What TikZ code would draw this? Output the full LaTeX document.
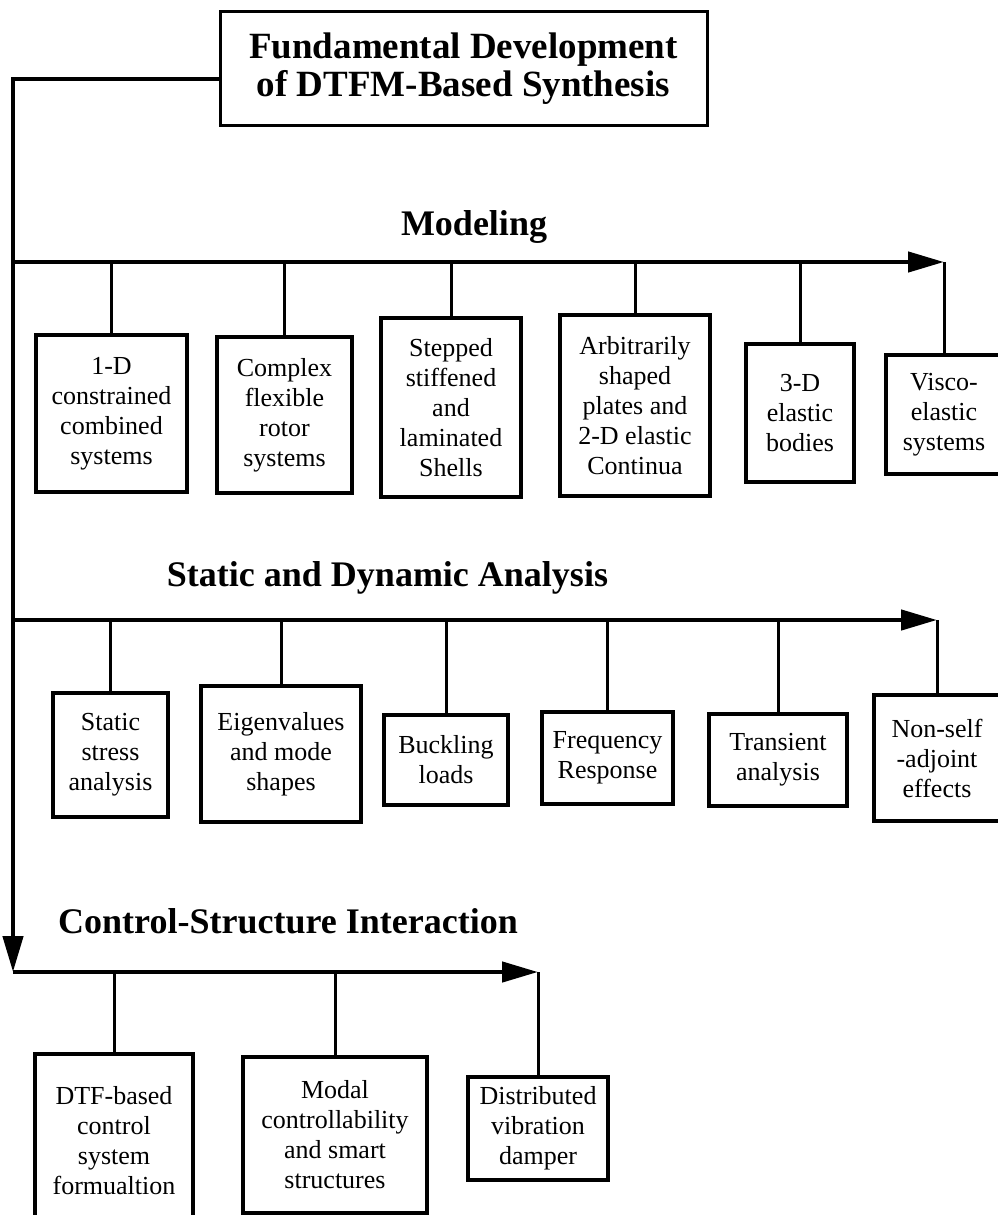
\documentclass[tikz,border=0pt]{standalone}
\usepackage{fontspec}
\setmainfont{Liberation Serif}
\usetikzlibrary{arrows.meta}

\tikzset{
  caja/.style={draw, line width=3.5pt, align=center, inner sep=0pt, font=\fontsize{26}{30}\selectfont},
  titulo/.style={draw, line width=3pt, align=center, inner sep=0pt, font=\fontsize{37}{38}\selectfont\bfseries},
  cabecera/.style={inner sep=0pt, font=\fontsize{36}{40}\selectfont\bfseries},
  principal/.style={line width=4.5pt},
  rama/.style={line width=3pt},
  flecha/.style={-{Triangle[length=36pt,width=20pt]}}
}

\begin{document}
\begin{tikzpicture}[x=1pt, y=-1pt]
\useasboundingbox (0,0) rectangle (998,1215);
\begin{scope}
% Recortamos lo que se sale del borde (las cajas de la derecha y la de abajo)
\clip (0,0) rectangle (998,1215);

% Caja principal
\node[titulo, minimum width=487pt, minimum height=113pt] (fund) at (463.5,68.5) {Fundamental Development\\of DTFM-Based Synthesis};

% Titulos de cada grupo
\node[cabecera, anchor=base] (modelado) at (474,235) {Modeling};
\node[cabecera, anchor=base] (analisis) at (387.5,586) {Static and Dynamic Analysis};
\node[cabecera, anchor=base] (control) at (288,933) {Control-Structure Interaction};

% Puntos del tronco y de las lineas horizontales
\coordinate (esquina) at (13,79);
\coordinate (lineaA) at (13,262);
\coordinate (lineaB) at (13,620);
\coordinate (lineaC) at (13,972);

% Modeling
\node[caja, minimum width=151pt, minimum height=157pt] (m1) at (111.5,413.5) {1-D\\constrained\\combined\\systems};
\node[caja, minimum width=135pt, minimum height=156pt] (m2) at (284.5,415) {Complex\\flexible\\rotor\\systems};
\node[caja, minimum width=140pt, minimum height=179pt] (m3) at (451,407.5) {Stepped\\stiffened\\and\\laminated\\Shells};
\node[caja, minimum width=150pt, minimum height=181pt] (m4) at (635,405.5) {Arbitrarily\\shaped\\plates and\\2-D elastic\\Continua};
\node[caja, minimum width=108pt, minimum height=138pt] (m5) at (800,413) {3-D\\elastic\\bodies};
\node[caja, minimum width=116pt, minimum height=119pt] (m6) at (944,414.5) {Visco-\\elastic\\systems};

% Static and Dynamic Analysis
\node[caja, minimum width=115pt, minimum height=124pt] (a1) at (110.5,755) {Static\\stress\\analysis};
\node[caja, minimum width=160pt, minimum height=136pt] (a2) at (281,754) {Eigenvalues\\and mode\\shapes};
\node[caja, minimum width=124pt, minimum height=90pt] (a3) at (446,760) {Buckling\\loads};
\node[caja, minimum width=131pt, minimum height=92pt] (a4) at (607.5,758) {Frequency\\Response};
\node[caja, minimum width=138pt, minimum height=92pt] (a5) at (778,760) {Transient\\analysis};
\node[caja, minimum width=126pt, minimum height=126pt] (a6) at (937,758) {Non-self\\-adjoint\\effects};

% Control-Structure Interaction
\node[caja, minimum width=158pt, minimum height=174pt] (c1) at (114,1141) {DTF-based\\control\\system\\formualtion};
\node[caja, minimum width=184pt, minimum height=156pt] (c2) at (335,1135) {Modal\\controllability\\and smart\\structures};
\node[caja, minimum width=140pt, minimum height=103pt] (c3) at (538,1128.5) {Distributed\\vibration\\damper};

% Ramas verticales hasta cada linea
\foreach \n in {m1,m2,m3,m4,m5,m6}
  \draw[rama] (\n.north) -- (\n.north |- lineaA);
\foreach \n in {a1,a2,a3,a4,a5,a6}
  \draw[rama] (\n.north) -- (\n.north |- lineaB);
\foreach \n in {c1,c2,c3}
  \draw[rama] (\n.north) -- (\n.north |- lineaC);

% Tronco y flechas
\draw[principal, flecha] (fund.west |- esquina) -- (esquina) -- (lineaC);
\draw[principal, flecha] (lineaA) -- (m6.north |- lineaA);
\draw[principal, flecha] (lineaB) -- (a6.north |- lineaB);
\draw[principal, flecha] (lineaC) -- (c3.north |- lineaC);
\end{scope}
\end{tikzpicture}
\end{document}
